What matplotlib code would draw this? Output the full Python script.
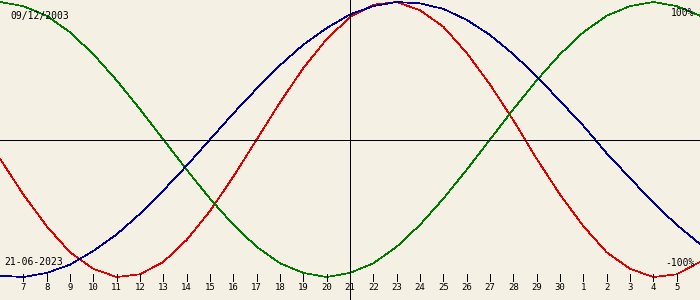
# biorhythm chart, birth 09/12/2003, centred on 21-06-2023
# one point per day, from 6 june to 6 july
import matplotlib
matplotlib.use("Agg")
import matplotlib.pyplot as plt

birth_label = "09/12/2003"
date_label = "21-06-2023"

# day numbers shown under the ticks (7 june .. 5 july)
tick_days = ['7', '8', '9', '10', '11', '12', '13', '14', '15', '16', '17', '18',
             '19', '20', '21', '22', '23', '24', '25', '26', '27', '28', '29', '30',
             '1', '2', '3', '4', '5']

# values in percent, first point is 6 june
physical = [-14, -40, -63, -82, -94, -100, -98, -89, -73, -52, -27, 0, 27, 52, 73, 89,
            98, 100, 94, 82, 63, 40, 14, -14, -40, -63, -82, -94, -100, -98, -89]
emotional = [100, 97, 90, 78, 62, 43, 22, 0, -22, -43, -62, -78, -90, -97, -100, -97,
             -90, -78, -62, -43, -22, 0, 22, 43, 62, 78, 90, 97, 100, 97, 90]
intellectual = [-99, -100, -97, -91, -81, -69, -54, -37, -19, 0, 19, 37, 54, 69, 81, 91,
                97, 100, 99, 95, 87, 76, 62, 46, 28, 10, -10, -28, -46, -62, -76]

today_index = 14  # 21 june, position counted from 6 june is 15

bg = '#f4f0e4'
px = 0.72  # one pixel at 100 dpi
fig = plt.figure(figsize=(7, 3), dpi=100, facecolor=bg)
ax = fig.add_axes([0, 0, 1, 1])
ax.set_facecolor(bg)

x = list(range(len(physical)))
ax.plot(x, physical, color='#e00000', lw=0.5, antialiased=False)
ax.plot(x, emotional, color='#007a00', lw=0.5, antialiased=False)
ax.plot(x, intellectual, color='#000099', lw=0.5, antialiased=False)

ax.set_xlim(0, len(physical) - 1)
ax.set_ylim(-116.7, 101.45)

# centre cross
ax.axhline(0, color='black', lw=px, antialiased=False)
ax.axvline(today_index + 1, color='black', lw=px, antialiased=False)

# day ticks along the bottom
tick_x = list(range(1, len(tick_days) + 1))
tr = ax.get_xaxis_transform()
ax.vlines(tick_x, 0.063, 0.087, color='black', lw=px, transform=tr, antialiased=False)
for tx, lab in zip(tick_x, tick_days):
    ax.text(tx, 0.04, lab, transform=tr, ha='center', va='center',
            fontsize=6.5, family='DejaVu Sans Mono')

txt = dict(fontsize=7, family='DejaVu Sans Mono', va='center', transform=ax.transAxes)
ax.text(0.0143, 0.946, birth_label, ha='left', **txt)
ax.text(0.0062, 0.127, date_label, ha='left', **txt)
ax.text(0.992, 0.958, '100%', ha='right', **txt)
ax.text(0.992, 0.124, '-100%', ha='right', **txt)

ax.axis('off')
fig.savefig('out.png', dpi=100, facecolor=bg)
